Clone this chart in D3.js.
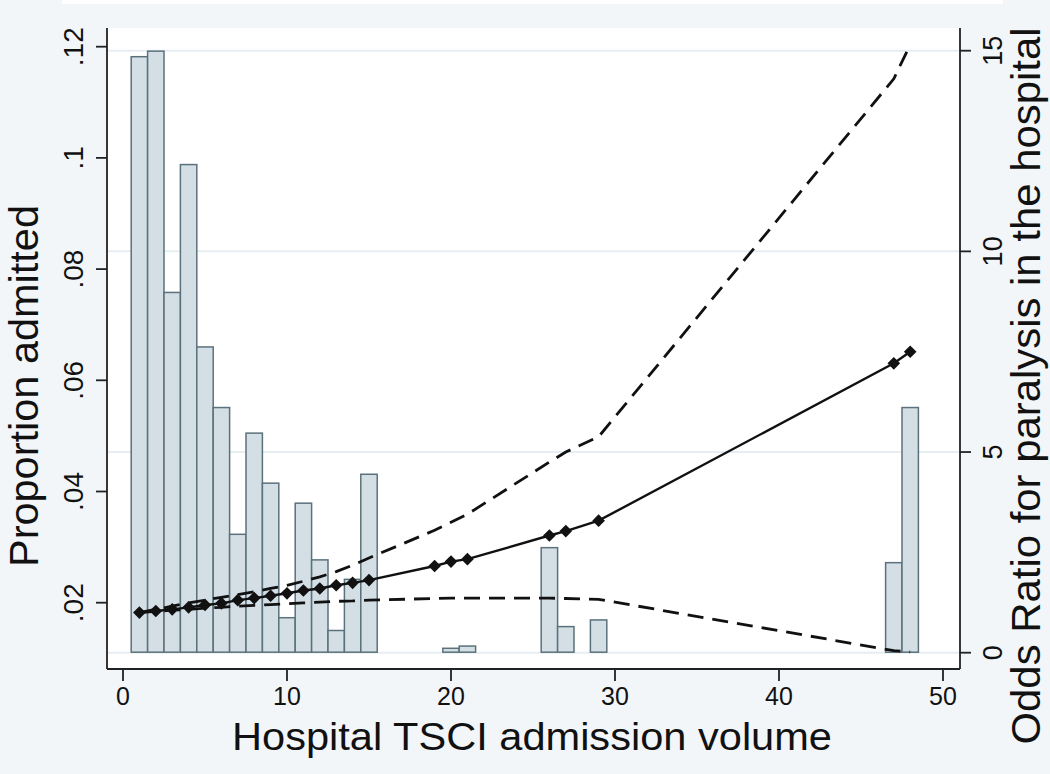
<!DOCTYPE html>
<html>
<head>
<meta charset="utf-8">
<script src="https://cdn.jsdelivr.net/npm/d3@7"></script>
<style>
  html, body { margin: 0; padding: 0; background: #f2f6f9; }
  svg { display: block; font-family: "Liberation Sans", Arial, sans-serif; }
</style>
</head>
<body>
<svg id="chart" width="1050" height="774"></svg>
<script>
// ---- Data ----
const barVolumes = [1,2,3,4,5,6,7,8,9,10,11,12,13,14,15,20,21,26,27,29,47,48];
const barProportions = [0.1182,0.1192,0.0758,0.0988,0.0660,0.0551,0.0323,0.0505,0.0415,0.0173,
                        0.0379,0.0277,0.0150,0.0242,0.0431,0.0118,0.0122,0.0299,0.0157,0.0169,
                        0.0272,0.0551];
const barBase = 0.0111;

const orVolumes = [1,2,3,4,5,6,7,8,9,10,11,12,13,14,15,19,20,21,26,27,29,47,48];
const oddsRatio = [1.00,1.04,1.08,1.13,1.19,1.23,1.31,1.36,1.42,1.48,1.55,1.60,1.68,1.74,1.81,
                   2.16,2.27,2.33,2.92,3.03,3.29,7.21,7.50];
const upperCI   = [1.00,1.08,1.16,1.24,1.31,1.38,1.45,1.52,1.60,1.68,1.78,1.89,2.02,2.18,2.36,
                   3.05,3.25,3.45,4.75,5.00,5.38,14.30,15.15];
const lowerCI   = [1.00,1.03,1.06,1.08,1.11,1.13,1.16,1.18,1.20,1.22,1.24,1.26,1.28,1.29,1.31,
                   1.35,1.36,1.36,1.36,1.35,1.33,0.05,0.02];

const xTicks = [0,10,20,30,40,50];
const leftTicks = [0.02,0.04,0.06,0.08,0.10,0.12];
const leftTickLabels = [".02",".04",".06",".08",".1",".12"];
const rightTicks = [0,5,10,15];

const xTitle = "Hospital TSCI admission volume";
const leftTitle = "Proportion admitted";
const rightTitle = "Odds Ratio for paralysis in the hospital";

// ---- Layout ----
const svg = d3.select("#chart");
const plot = {left: 107, right: 960, top: 28, bottom: 669};

const x = d3.scaleLinear().domain([0, 50]).range([123, 943]);
const yL = d3.scaleLinear().domain([0.02, 0.12]).range([602.7, 46.7]);
const yR = d3.scaleLinear().domain([0, 15]).range([652.7, 50.7]);

// background
svg.append("rect").attr("width", 1050).attr("height", 774).attr("fill", "#f2f6f9");
svg.append("rect").attr("x", 62).attr("y", 0).attr("width", 941).attr("height", 4).attr("fill", "#ffffff");
svg.append("rect").attr("x", plot.left).attr("y", plot.top)
  .attr("width", plot.right - plot.left).attr("height", plot.bottom - plot.top).attr("fill", "#ffffff");

// gridlines (right axis)
svg.append("g").selectAll("line").data(rightTicks).join("line")
  .attr("x1", plot.left).attr("x2", plot.right)
  .attr("y1", d => yR(d)).attr("y2", d => yR(d))
  .attr("stroke", "#e6eef2").attr("stroke-width", 2);

// bars
const bw = x(1) - x(0);
svg.append("g").selectAll("rect").data(barVolumes.map((v, i) => ({v, p: barProportions[i]}))).join("rect")
  .attr("x", d => x(d.v) - bw / 2)
  .attr("width", bw)
  .attr("y", d => yL(d.p))
  .attr("height", d => yL(barBase) - yL(d.p))
  .attr("fill", "#d4dfe5")
  .attr("stroke", "#5b717b")
  .attr("stroke-width", 1.5);

// lines
const orData = orVolumes.map((v, i) => ({v, or: oddsRatio[i], up: upperCI[i], lo: lowerCI[i]}));
const lineGen = key => d3.line().x(d => x(d.v)).y(d => yR(d[key]));

svg.append("path").datum(orData).attr("d", lineGen("up"))
  .attr("fill", "none").attr("stroke", "#111").attr("stroke-width", 2.8)
  .attr("stroke-dasharray", "16,9");
svg.append("path").datum(orData).attr("d", lineGen("lo"))
  .attr("fill", "none").attr("stroke", "#111").attr("stroke-width", 2.8)
  .attr("stroke-dasharray", "16,9");
svg.append("path").datum(orData).attr("d", lineGen("or"))
  .attr("fill", "none").attr("stroke", "#111").attr("stroke-width", 2.4);

svg.append("g").selectAll("path").data(orData).join("path")
  .attr("d", d3.symbol().type(d3.symbolSquare).size(80))
  .attr("transform", d => `translate(${x(d.v)},${yR(d.or)}) rotate(45)`)
  .attr("fill", "#111");

// axes lines
const axisColor = "#222";
svg.append("line").attr("x1", plot.left).attr("x2", plot.left).attr("y1", plot.top).attr("y2", plot.bottom)
  .attr("stroke", axisColor).attr("stroke-width", 1.8);
svg.append("line").attr("x1", plot.right).attr("x2", plot.right).attr("y1", plot.top).attr("y2", plot.bottom)
  .attr("stroke", axisColor).attr("stroke-width", 1.8);
svg.append("line").attr("x1", plot.left).attr("x2", plot.right).attr("y1", plot.bottom).attr("y2", plot.bottom)
  .attr("stroke", axisColor).attr("stroke-width", 1.8);

// x ticks
const gx = svg.append("g");
gx.selectAll("line").data(xTicks).join("line")
  .attr("x1", d => x(d)).attr("x2", d => x(d)).attr("y1", plot.bottom).attr("y2", plot.bottom + 12)
  .attr("stroke", axisColor).attr("stroke-width", 1.8);
gx.selectAll("text").data(xTicks).join("text")
  .attr("x", d => x(d)).attr("y", 705).attr("text-anchor", "middle")
  .attr("font-size", 25).attr("fill", "#111").text(d => d);

// left ticks
const gl = svg.append("g");
gl.selectAll("line").data(leftTicks).join("line")
  .attr("x1", plot.left - 11).attr("x2", plot.left).attr("y1", d => yL(d)).attr("y2", d => yL(d))
  .attr("stroke", axisColor).attr("stroke-width", 1.8);
gl.selectAll("text").data(leftTicks).join("text")
  .attr("transform", d => `translate(83,${yL(d)}) rotate(-90)`)
  .attr("text-anchor", "middle").attr("font-size", 28).attr("fill", "#111")
  .text((d, i) => leftTickLabels[i]);

// right ticks
const gr = svg.append("g");
gr.selectAll("line").data(rightTicks).join("line")
  .attr("x1", plot.right).attr("x2", plot.right + 11).attr("y1", d => yR(d)).attr("y2", d => yR(d))
  .attr("stroke", axisColor).attr("stroke-width", 1.8);
gr.selectAll("text").data(rightTicks).join("text")
  .attr("transform", d => `translate(1002,${yR(d)}) rotate(-90)`)
  .attr("text-anchor", "middle").attr("font-size", 27).attr("fill", "#111")
  .text(d => d);

// titles
svg.append("text").attr("x", 532).attr("y", 750).attr("text-anchor", "middle")
  .attr("font-size", 38).attr("fill", "#111")
  .attr("textLength", 600).attr("lengthAdjust", "spacingAndGlyphs").text(xTitle);
svg.append("text").attr("transform", "translate(38,386) rotate(-90)").attr("text-anchor", "middle")
  .attr("font-size", 40).attr("fill", "#111")
  .attr("textLength", 362).attr("lengthAdjust", "spacingAndGlyphs").text(leftTitle);
svg.append("text").attr("transform", "translate(1040,386) rotate(-90)").attr("text-anchor", "middle")
  .attr("font-size", 41).attr("fill", "#111")
  .attr("textLength", 717).attr("lengthAdjust", "spacingAndGlyphs").text(rightTitle);
</script>
</body>
</html>
